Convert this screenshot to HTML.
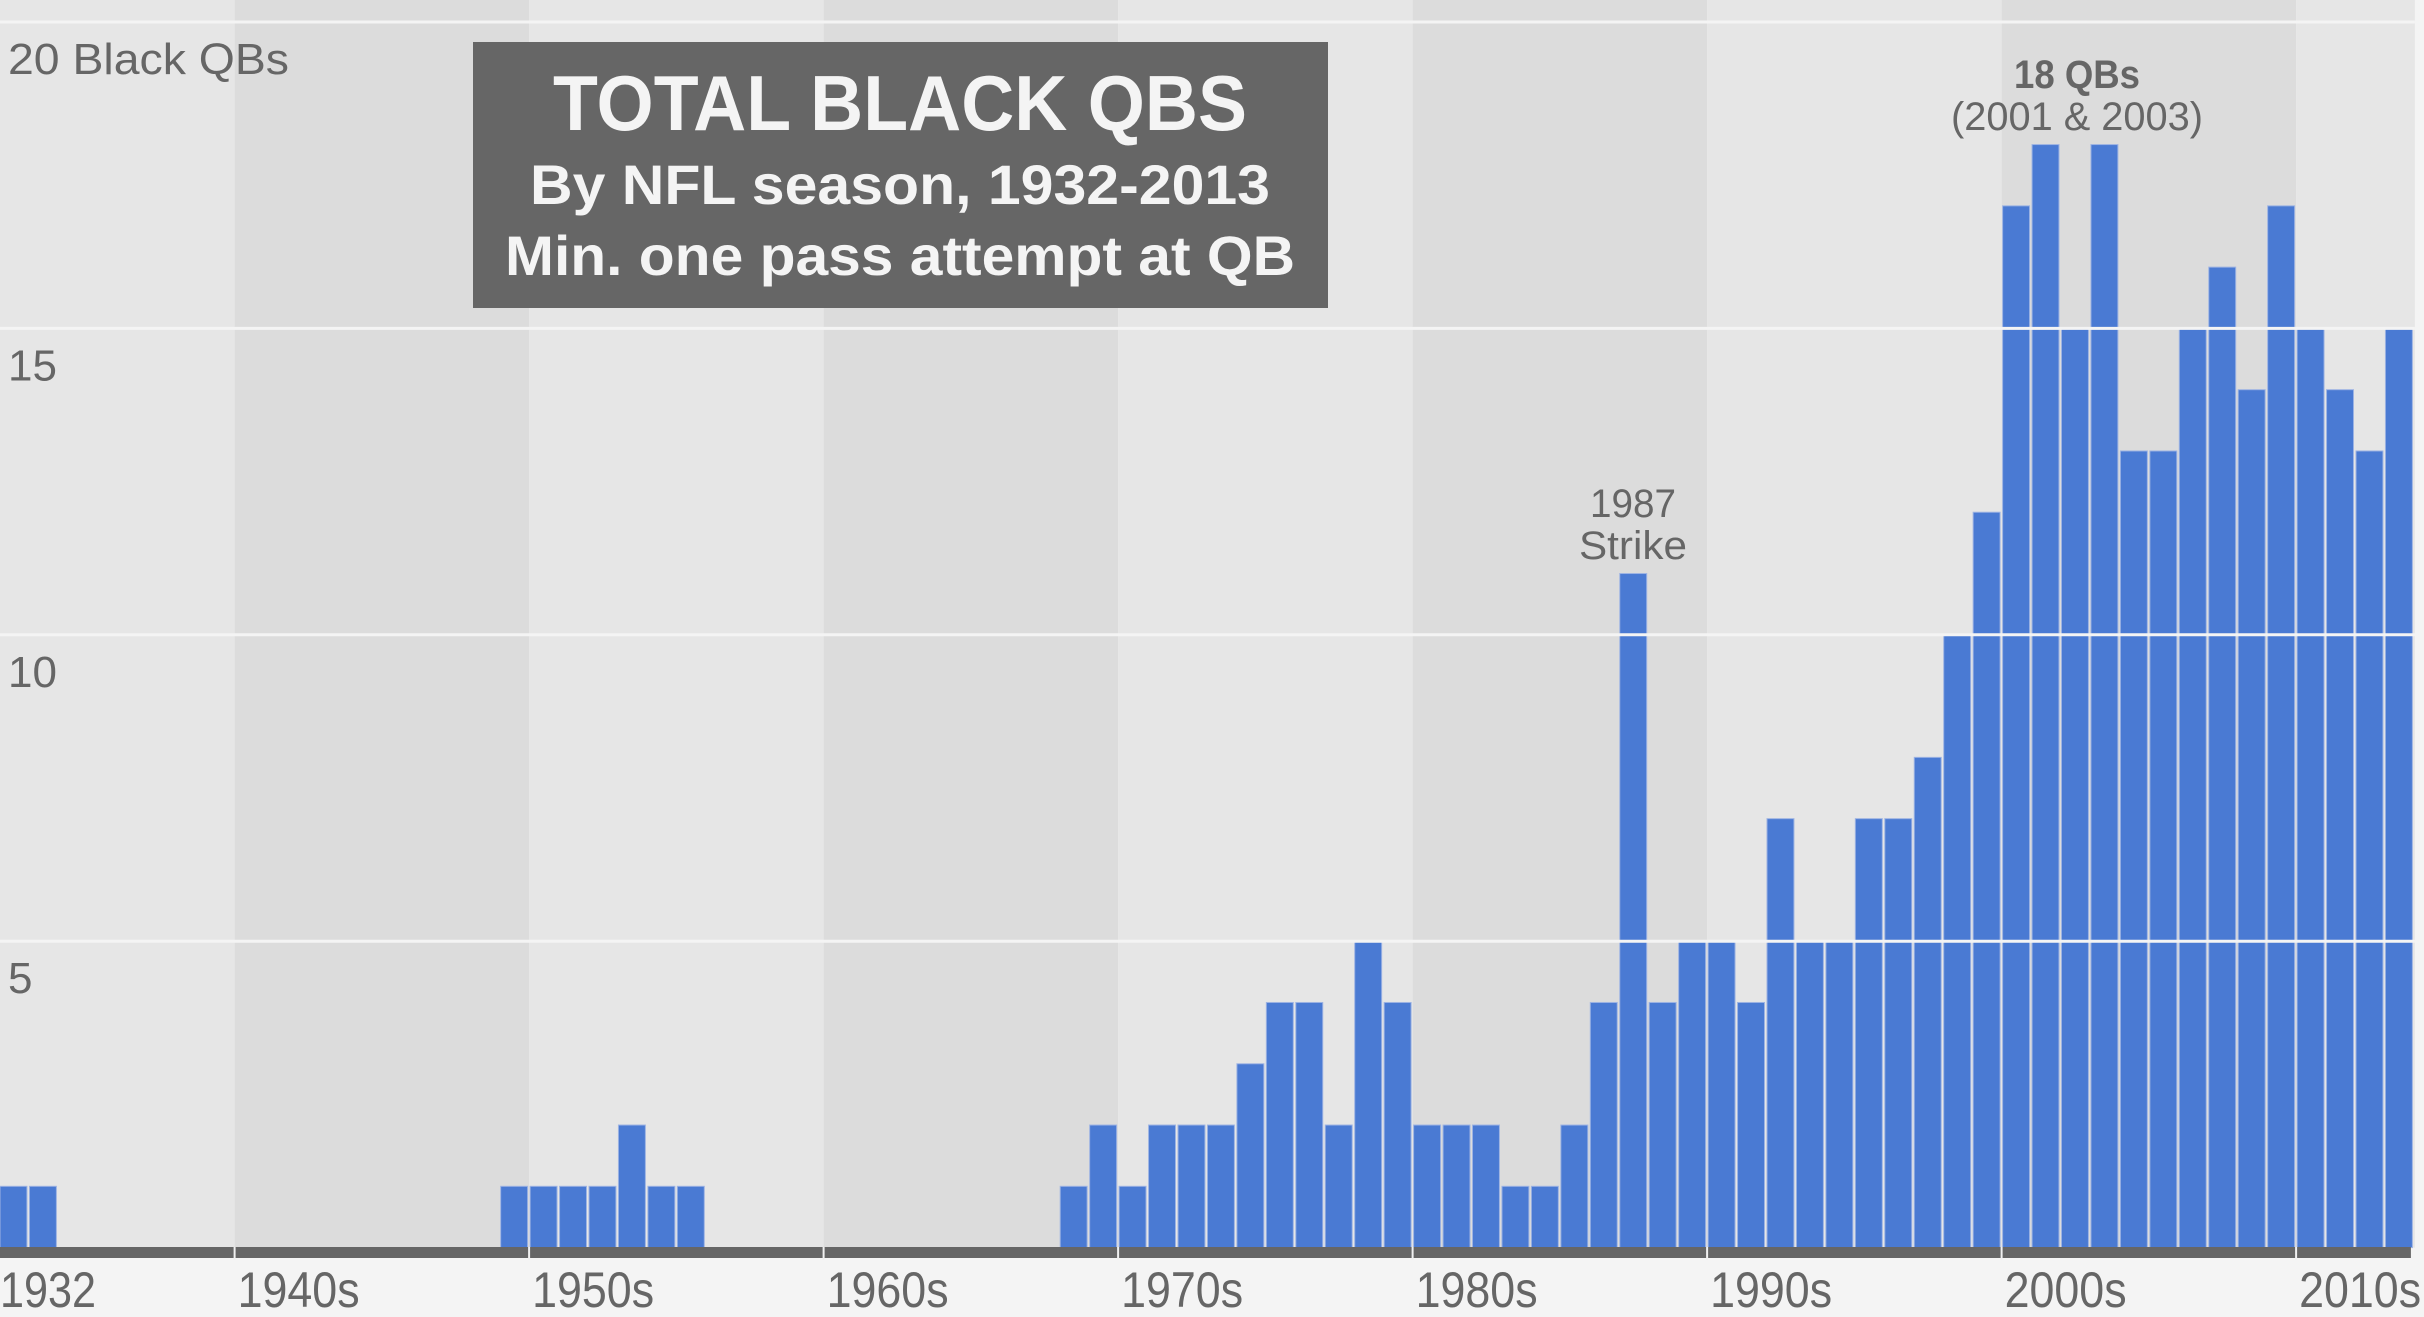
<!DOCTYPE html>
<html><head><meta charset="utf-8"><style>
html,body{margin:0;padding:0;background:#f4f4f4;}
svg{display:block;font-family:"Liberation Sans",sans-serif;}
</style></head><body>
<svg id="chart" width="2424" height="1317" viewBox="0 0 2424 1317" xmlns="http://www.w3.org/2000/svg">
<rect x="0" y="0" width="2424" height="1317" fill="#f4f4f4"/>
<g id="bands"></g>
<g id="bars"></g>
<g id="grid"></g>
<g id="axis"></g>
<g id="labels"></g>
<g>
<rect x="473" y="42" width="855" height="266" fill="#666666"/>
<text x="900" y="130" text-anchor="middle" font-size="78" font-weight="bold" fill="#f4f4f4" textLength="694" lengthAdjust="spacingAndGlyphs">TOTAL BLACK QBS</text>
<text x="900" y="204" text-anchor="middle" font-size="56" font-weight="bold" fill="#f4f4f4" textLength="740" lengthAdjust="spacingAndGlyphs">By NFL season, 1932-2013</text>
<text x="900" y="275" text-anchor="middle" font-size="56" font-weight="bold" fill="#f4f4f4" textLength="790" lengthAdjust="spacingAndGlyphs">Min. one pass attempt at QB</text>
</g>
<g>
<text x="1633" y="517" text-anchor="middle" font-size="40" fill="#666" textLength="86" lengthAdjust="spacingAndGlyphs">1987</text>
<text x="1633" y="559" text-anchor="middle" font-size="40" fill="#666" textLength="108" lengthAdjust="spacingAndGlyphs">Strike</text>
</g>
<g>
<text x="2077" y="88" text-anchor="middle" font-size="40" font-weight="bold" fill="#666" textLength="126" lengthAdjust="spacingAndGlyphs">18 QBs</text>
<text x="2077" y="130" text-anchor="middle" font-size="40" fill="#666" textLength="252" lengthAdjust="spacingAndGlyphs">(2001 &amp; 2003)</text>
</g>
</svg>
<script>
const years = [];
for (let y = 1932; y <= 2013; y++) years.push(y);
const counts = [1,1,0,0,0,0,0,0,0,0,0,0,0,0,0,0,0,1,1,1,1,2,1,1,0,0,0,0,0,0,0,0,0,0,0,0,1,2,1,2,2,2,3,4,4,2,5,4,2,2,2,1,1,2,4,11,4,5,5,4,7,5,5,7,7,8,10,12,17,18,15,18,13,13,15,16,14,17,15,14,13,15];
const yTicks = [5,10,15,20];
const yTickLabels = ["5","10","15","20 Black QBs"];
const decades = [1940,1950,1960,1970,1980,1990,2000,2010];
const xLabels = ["1932","1940s","1950s","1960s","1970s","1980s","1990s","2000s","2010s"];

const NS = "http://www.w3.org/2000/svg";
const step = 29.45, y0 = 1247.6, unit = 61.28;
function xs(year){ return (year - 1932) * step; }
function ys(v){ return y0 - v * unit; }
function mk(tag, attrs, parent){
  const e = document.createElementNS(NS, tag);
  for (const k in attrs) e.setAttribute(k, attrs[k]);
  parent.appendChild(e); return e;
}
const bands = document.getElementById('bands');
const bandStarts = [1932].concat(decades);
bandStarts.forEach((d, i) => {
  const x1 = i === 0 ? 0 : xs(d) - 1;
  const x2 = i === bandStarts.length - 1 ? xs(2014) : xs(d + (i===0?8:10)) - 1;
  const r = mk('rect', {x:x1, y:0, width:x2 - x1, height:y0, fill: i % 2 === 0 ? '#e6e6e6' : '#dcdcdc'}, bands);
  
  
});
const bars = document.getElementById('bars');
years.forEach((yr, i) => {
  const v = counts[i];
  if (!v) return;
  const r = mk('rect', {x:xs(yr), y:ys(v), width:step - 2.5, height:y0 - ys(v), fill:'#4a7ad3', stroke:'#9db3e3', 'stroke-width':1}, bars);
  
  
});
const grid = document.getElementById('grid');
const labels = document.getElementById('labels');
yTicks.forEach((t, i) => {
  const l = mk('line', {x1:0, x2:xs(2014), y1:ys(t), y2:ys(t), stroke:'#f4f4f4', 'stroke-width':3}, grid);
  
  
  const tx = mk('text', {x:8, y:ys(t) + 52, 'font-size':44, fill:'#666'}, labels);
  tx.textContent = yTickLabels[i];
  if (i === yTicks.length - 1) tx.setAttribute('textLength', 281), tx.setAttribute('lengthAdjust','spacingAndGlyphs');
  
  
});
const axis = document.getElementById('axis');
const base = mk('rect', {x:0, y:1247, width:xs(2014) - 4, height:11, fill:'#666'}, axis);


decades.forEach(d => {
  const l = mk('line', {x1:xs(d) - 1, x2:xs(d) - 1, y1:1247, y2:1260, stroke:'#f0f0f0', 'stroke-width':2}, axis);
  
  
});
bandStarts.forEach((d, i) => {
  const t = mk('text', {x: i === 0 ? 0 : xs(d) + 2, y:1307, 'font-size':50, fill:'#666', textLength: i === 0 ? 96 : 122, lengthAdjust:'spacingAndGlyphs'}, labels);
  t.textContent = xLabels[i];
  
  
});
</script>
</body></html>
